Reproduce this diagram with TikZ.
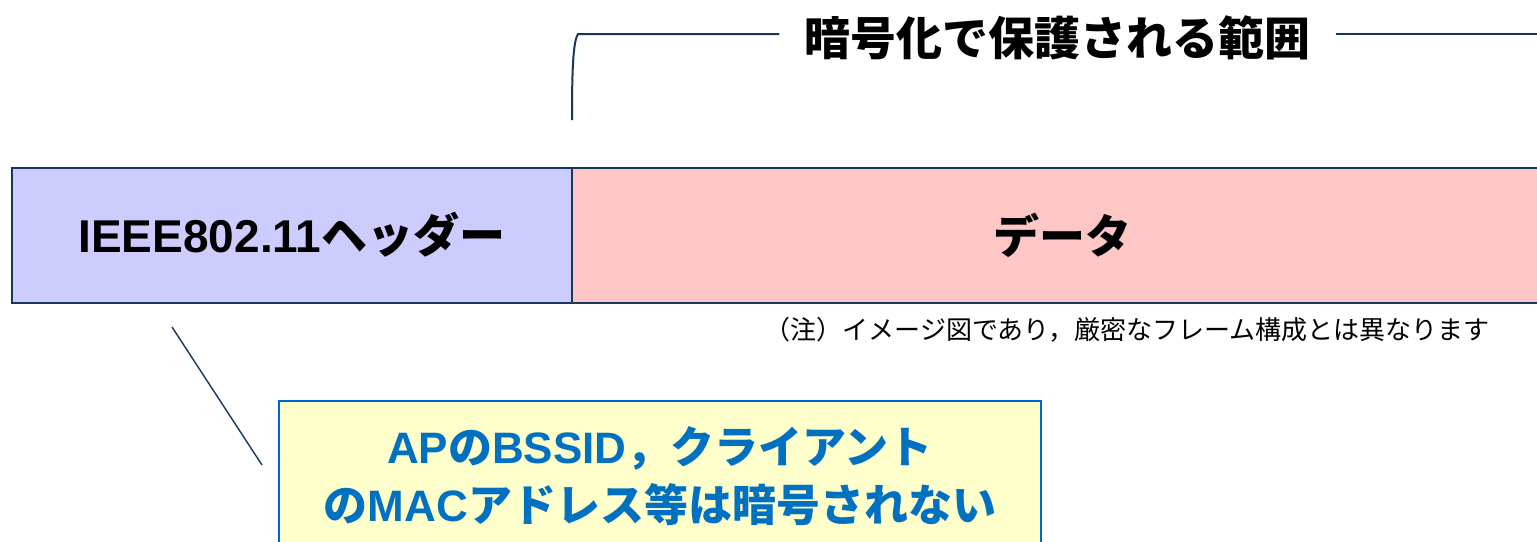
\documentclass[tikz,border=0pt]{standalone}
\usepackage{fontspec}
\setmainfont{Liberation Sans}
\newfontfamily\cjk{Noto Sans CJK JP}
\newfontfamily\lat{Liberation Sans}
\definecolor{navy}{HTML}{17375E}
\definecolor{hdrfill}{HTML}{CCCCFF}
\definecolor{datfill}{HTML}{FFC6C6}
\definecolor{notefill}{HTML}{FFFFCC}
\definecolor{noteedge}{HTML}{0066CC}
\definecolor{notetext}{HTML}{0070C0}
\tikzset{
  framebox/.style={draw=navy, line width=2pt, inner sep=0pt, minimum height=135pt},
  bracketline/.style={draw=navy, line width=2pt},
  leader/.style={draw=navy, line width=1.4pt},
  bigtext/.style={font=\fontsize{46}{50}\selectfont\bfseries},
}
\begin{document}
\begin{tikzpicture}[x=1pt,y=-1pt]
\useasboundingbox (0,0) rectangle (1537,541);
\clip (0,0) rectangle (1537,541);
\fill[white] (0,0) rectangle (1537,541);
% frame boxes
\node[framebox, fill=datfill, minimum width=980pt, bigtext] (data) at (1062,235) {\cjk データ};
\node[framebox, fill=hdrfill, minimum width=560pt, bigtext] (header) at (292,235) {\lat IEEE802.11\cjk ヘッダー};
% title and bracket
\node[bigtext, inner xsep=25pt, inner ysep=0pt] (title) at (1057.5,38) {\cjk 暗号化で保護される範囲};
\coordinate (brb) at (572,120);
\coordinate (brc) at (578,34);
\coordinate (rend) at (1545,34);
\draw[bracketline] (brb) .. controls (572,70) and (573,42) .. (brc) -- (brc -| title.west);
\draw[bracketline] (title.east |- brc) -- (rend);
% note
\node[font=\fontsize{26}{30}\selectfont] (note) at (1127,330) {\cjk （注）イメージ図であり，厳密なフレーム構成とは異なります};
% callout
\node[draw=noteedge, line width=2pt, fill=notefill, minimum width=762pt, minimum height=150pt, inner sep=0pt,
      align=center, text=notetext, font=\fontsize{44}{58}\selectfont\bfseries] (callout) at (660,476)
  {\lat AP\cjk の\lat BSSID\cjk ，クライアント\\\cjk の\lat MAC\cjk アドレス等は暗号されない};
\coordinate (ld1) at (172,327);
\coordinate (ld2) at (262,465);
\draw[leader] (ld1) -- (ld2);
\end{tikzpicture}
\end{document}
